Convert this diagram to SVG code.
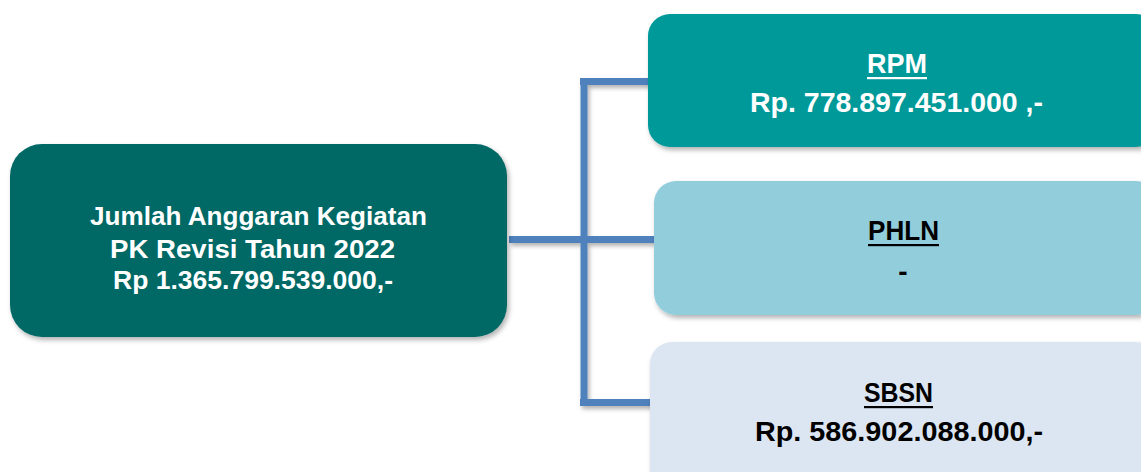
<svg xmlns="http://www.w3.org/2000/svg" width="1141" height="472" viewBox="0 0 1141 472">
<style>
.t{font-family:"Liberation Sans",Arial,sans-serif;font-weight:bold;text-anchor:middle}
.w{fill:#ffffff}
.k{fill:#000000}
.conn{fill:none;stroke:#4F81BD;stroke-width:7;stroke-linecap:butt}
</style>
<defs>
<filter id="sh" x="-10%" y="-20%" width="130%" height="150%">
<feDropShadow dx="2" dy="3" stdDeviation="2.5" flood-color="#000" flood-opacity="0.3"/>
</filter>
<filter id="lsh" x="-10%" y="-50%" width="130%" height="250%">
<feDropShadow dx="2" dy="3" stdDeviation="2" flood-color="#000" flood-opacity="0.3"/>
</filter>
</defs>
<rect width="1141" height="472" fill="#ffffff"/>
<g id="connectors" filter="url(#lsh)">
<path class="conn" d="M509,239.5 H654"/>
<path class="conn" d="M584,78 V406"/>
<path class="conn" d="M580,81.5 H650"/>
<path class="conn" d="M580,402.5 H652"/>
</g>
<g id="node-total">
<rect x="10" y="144" width="497" height="193" rx="32" fill="#006865" filter="url(#sh)"/>
<text class="t w" x="258.5" y="225" font-size="26" textLength="337" lengthAdjust="spacingAndGlyphs">Jumlah Anggaran Kegiatan</text>
<text class="t w" x="252.5" y="258" font-size="26" textLength="285" lengthAdjust="spacingAndGlyphs">PK Revisi Tahun 2022</text>
<text class="t w" x="253" y="289" font-size="26" textLength="280" lengthAdjust="spacingAndGlyphs">Rp 1.365.799.539.000,-</text>
</g>
<g id="node-rpm">
<rect x="648" y="14" width="510" height="133" rx="22" fill="#009999" filter="url(#sh)"/>
<text class="t w" x="897" y="73" font-size="28" textLength="60" lengthAdjust="spacingAndGlyphs">RPM</text>
<rect x="867" y="77" width="60" height="2.2" fill="#ffffff"/>
<text class="t w" x="896.5" y="112" font-size="28" textLength="293" lengthAdjust="spacingAndGlyphs">Rp. 778.897.451.000 ,-</text>
</g>
<g id="node-phln">
<rect x="654" y="181" width="504" height="134" rx="22" fill="#92CDDC" filter="url(#sh)"/>
<text class="t k" x="903.5" y="240" font-size="28" textLength="71" lengthAdjust="spacingAndGlyphs">PHLN</text>
<rect x="868" y="244" width="71" height="2.2" fill="#000000"/>
<text class="t k" x="903" y="281" font-size="28">-</text>
</g>
<g id="node-sbsn">
<rect x="650" y="342" width="508" height="150" rx="22" fill="#DCE6F2" filter="url(#sh)"/>
<text class="t k" x="898.5" y="402" font-size="28" textLength="69" lengthAdjust="spacingAndGlyphs">SBSN</text>
<rect x="864" y="406" width="69" height="2.2" fill="#000000"/>
<text class="t k" x="899" y="441" font-size="28" textLength="288" lengthAdjust="spacingAndGlyphs">Rp. 586.902.088.000,-</text>
</g>
</svg>
